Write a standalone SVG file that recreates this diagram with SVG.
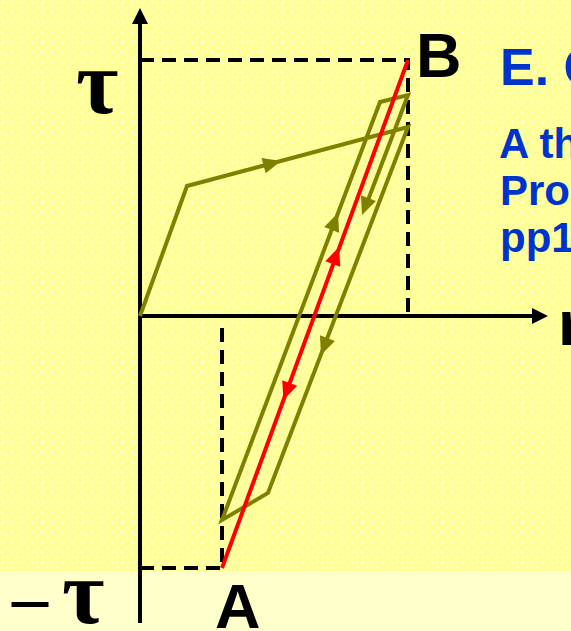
<svg xmlns="http://www.w3.org/2000/svg" width="571" height="631" viewBox="0 0 571 631">
<defs>
<pattern id="dots" width="10" height="10" patternUnits="userSpaceOnUse">
<rect width="10" height="10" fill="#FFFF99"/>
<circle cx="2.5" cy="2.5" r="1" fill="#FFFFFF" fill-opacity="0.75"/>
<circle cx="7.5" cy="7.5" r="1" fill="#FFFFFF" fill-opacity="0.75"/>
</pattern>
<path id="ah" d="M0,0 L-18,-8 L-18,8 Z"/>
</defs>
<style>
.axis{stroke:#000;stroke-width:4;fill:none}
.dash{stroke:#000;stroke-width:4;fill:none;stroke-dasharray:14 8}
.olive{stroke:#808000;stroke-width:4;fill:none;stroke-linejoin:miter}
.red{stroke:#FF0000;stroke-width:4;fill:none}
.oh{fill:#808000}
.rh{fill:#FF0000}
.lbl{font-family:"Liberation Sans",Arial,sans-serif;font-weight:bold;fill:#000}
.tau{font-family:"Liberation Serif","Times New Roman",serif;font-weight:bold;fill:#000}
.blue{font-family:"Liberation Sans",Arial,sans-serif;font-weight:bold;fill:#0033CC}
</style>
<rect width="571" height="571" fill="url(#dots)"/>
<rect y="571" width="571" height="60" fill="#FFFFCC"/>

<g id="axes">
<line class="axis" x1="140" y1="623" x2="140" y2="22"/>
<polygon points="140,8 132,24 148,24" fill="#000"/>
<line class="axis" x1="138" y1="316" x2="534" y2="316"/>
<polygon points="548,316 532,308 532,324" fill="#000"/>
</g>

<g id="guides">
<path class="dash" d="M140,60 H408 V312"/>
<path class="dash" d="M140,568 H222 V328"/>
</g>

<g id="connectors">
<path class="olive" d="M140,316 L187,186 L408,127 L268,493 L222,520 L380,102 L408,95 L365,208"/>
<line class="red" x1="222" y1="568" x2="408" y2="60"/>
<use href="#ah" class="oh" transform="translate(281,161) rotate(-14.95)"/>
<use href="#ah" class="oh" transform="translate(321,355) rotate(110.9)"/>
<use href="#ah" class="oh" transform="translate(338,213) rotate(-69.3)"/>
<use href="#ah" class="oh" transform="translate(362,215) rotate(110.9)"/>
<use href="#ah" class="rh" transform="translate(339,247) rotate(-69.9)"/>
<use href="#ah" class="rh" transform="translate(283.5,400) rotate(110.1)"/>
</g>

<g id="label-tau">
<text class="tau" x="76" y="113" font-size="92">τ</text>
</g>
<g id="label-neg-tau">
<text class="tau" y="621"><tspan x="12" font-size="72">–</tspan><tspan x="62" y="623" font-size="92">τ</tspan></text>
</g>
<g id="label-B">
<text class="lbl" x="416" y="77" font-size="63">B</text>
</g>
<g id="label-A">
<text class="lbl" x="215" y="628" font-size="63">A</text>
</g>
<g id="label-x">
<text class="lbl" x="558" y="345" font-size="63">r</text>
</g>
<g id="title">
<text class="blue" x="500" y="85" font-size="52">E. C</text>
<text class="blue" x="499" y="158" font-size="42">A th</text>
<text class="blue" x="500" y="205" font-size="42">Pro</text>
<text class="blue" x="500" y="252" font-size="42">pp1</text>
</g>
</svg>
